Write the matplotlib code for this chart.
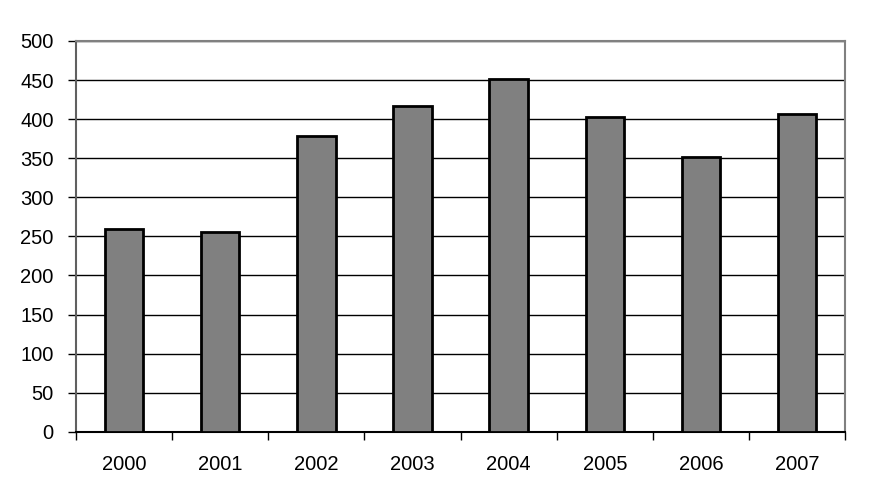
import matplotlib.pyplot as plt
import numpy as np

years = ['2000', '2001', '2002', '2003', '2004', '2005', '2006', '2007']
values = [259, 256, 379, 417, 451, 403, 351, 406]

plt.rcParams['font.family'] = ['Liberation Sans', 'DejaVu Sans']

fig = plt.figure(figsize=(8.69, 5.03), dpi=100)
ax = fig.add_axes([0.0875, 0.1417, 0.885, 0.7768])

x = np.arange(len(years))
ax.bar(x, values, width=0.4, color='#808080', edgecolor='black', linewidth=2, zorder=3)

ax.set_xlim(-0.5, len(years) - 0.5)
ax.set_ylim(0, 500)
ax.set_yticks(range(0, 501, 50))
ax.yaxis.grid(True, color='black', linewidth=1, zorder=0)

# ticks between categories, labels at the centres
ax.set_xticks(np.arange(-0.5, len(years), 1.0))
ax.set_xticklabels([])
ax.set_xticks(x, minor=True)
ax.set_xticklabels(years, minor=True)
ax.tick_params(axis='x', which='major', length=6, width=1, color='black')
ax.tick_params(axis='x', which='minor', length=0, pad=17, labelsize=14.5)
ax.tick_params(axis='y', length=6, width=1, pad=10, labelsize=14.5)

ax.spines['top'].set_color('#808080')
ax.spines['right'].set_color('#808080')
ax.spines['left'].set_color('#606060')
ax.spines['bottom'].set_color('black')
for s in ax.spines.values():
    s.set_linewidth(1.5)

plt.savefig('out.png', dpi=100)
